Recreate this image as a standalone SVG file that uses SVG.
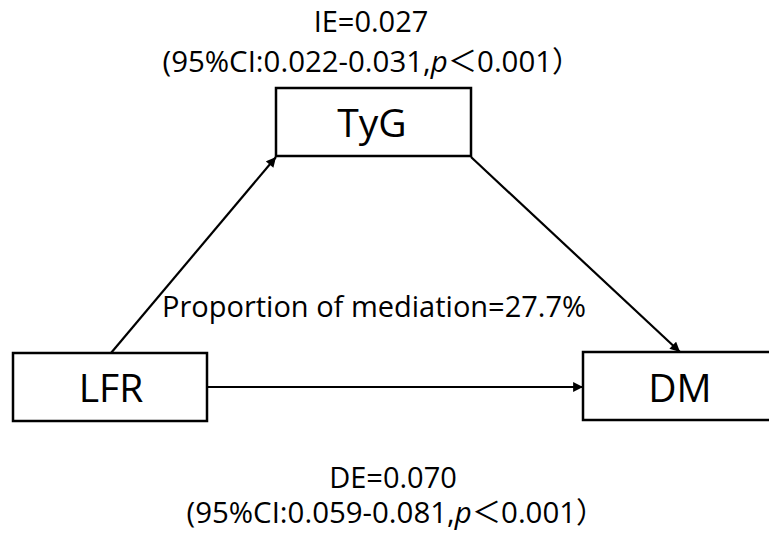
<svg xmlns="http://www.w3.org/2000/svg" width="769" height="542" viewBox="0 0 769 542">
<style>
.box{fill:#fff;stroke:#000;stroke-width:2.5}
.lbl{font-family:"Open Sans","Noto Sans CJK SC",sans-serif;font-size:39px;fill:#000;text-anchor:middle}
.ann{font-family:"Open Sans","Noto Sans CJK SC",sans-serif;font-size:29px;fill:#000;text-anchor:middle}
.edge{stroke:#000;stroke-width:2.2;fill:none;marker-end:url(#ah)}
</style>
<defs>
<marker id="ah" viewBox="0 0 10 10" refX="10" refY="5" markerWidth="5" markerHeight="4.5" orient="auto" markerUnits="strokeWidth">
<path d="M0,0 L10,5 L0,10 Z" fill="#000"/>
</marker>
</defs>
<g id="connectors">
<line class="edge" x1="111" y1="353" x2="276" y2="157"/>
<line class="edge" x1="471" y1="157" x2="680" y2="352"/>
<line class="edge" x1="207" y1="387" x2="583" y2="387"/>
</g>
<g id="TyG">
<rect class="box" x="276" y="88" width="195" height="68"/>
<text class="lbl" x="372" y="137">TyG</text>
</g>
<g id="LFR">
<rect class="box" x="13" y="353" width="194" height="68"/>
<text class="lbl" x="111" y="402">LFR</text>
</g>
<g id="DM">
<rect class="box" x="583" y="352" width="200" height="68"/>
<text class="lbl" x="680" y="402">DM</text>
</g>
<g id="annotations">
<text class="ann" x="371" y="32">IE=0.027</text>
<text class="ann" x="372" y="72" textLength="419" lengthAdjust="spacingAndGlyphs">(95%CI:0.022-0.031,<tspan font-style="italic">p</tspan>＜0.001）</text>
<text class="ann" x="374" y="317">Proportion of mediation=27.7%</text>
<text class="ann" x="393" y="488">DE=0.070</text>
<text class="ann" x="396" y="523" textLength="419" lengthAdjust="spacingAndGlyphs">(95%CI:0.059-0.081,<tspan font-style="italic">p</tspan>＜0.001）</text>
</g>
</svg>
